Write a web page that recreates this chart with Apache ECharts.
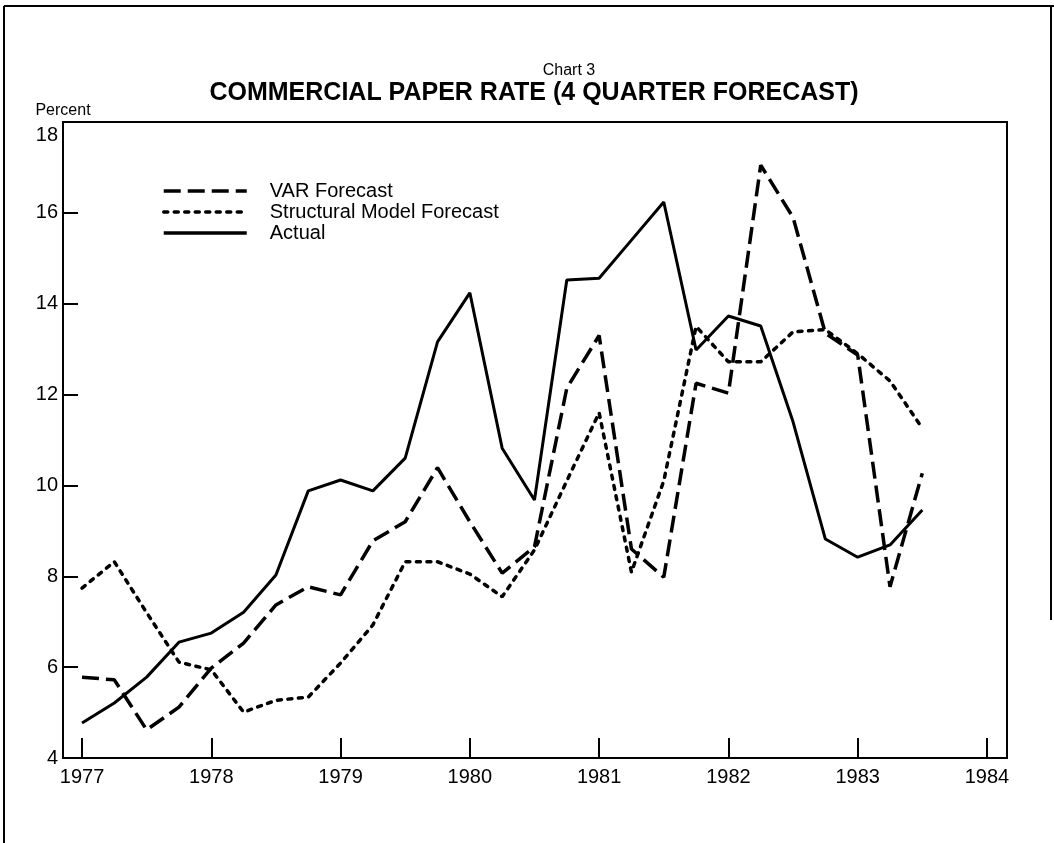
<!DOCTYPE html>
<html><head><meta charset="utf-8">
<script src="https://cdn.jsdelivr.net/npm/echarts@6/dist/echarts.min.js"></script>
<style>html,body{margin:0;padding:0;background:#fff}#c{width:1054px;height:843px}</style>
</head><body><div id="c"></div>
<script>
// Quarterly observation dates (1977Q1 .. 1983Q3)
const quarters = [1977.00,1977.25,1977.50,1977.75,1978.00,1978.25,1978.50,1978.75,
  1979.00,1979.25,1979.50,1979.75,1980.00,1980.25,1980.50,1980.75,
  1981.00,1981.25,1981.50,1981.75,1982.00,1982.25,1982.50,1982.75,
  1983.00,1983.25,1983.50];
const actual = [4.77,5.21,5.78,6.55,6.75,7.21,8.03,9.88,10.12,9.88,10.6,13.16,14.24,10.82,9.68,14.52,
  14.56,15.4,16.24,12.98,13.73,13.51,11.4,8.82,8.42,8.69,9.46];
const varForecast = [5.78,5.72,4.62,5.12,5.98,6.53,7.37,7.77,7.59,8.78,9.2,10.39,9.2,8.07,8.65,12.14,
  13.3,8.6,7.98,12.25,12.03,17.05,15.9,13.35,12.87,7.77,10.27];
const structural = [7.74,8.32,7.2,6.11,5.94,5.01,5.27,5.34,6.09,6.93,8.32,8.32,8.05,7.55,8.58,10.1,
  11.6,8.09,10.1,13.5,12.72,12.72,13.38,13.43,12.9,12.3,11.26];
const yearTicks = [1977,1978,1979,1980,1981,1982,1983,1984];
const seriesNames = ['VAR Forecast','Structural Model Forecast','Actual'];
const chartLabel = 'Chart 3';
const chartTitle = 'COMMERCIAL PAPER RATE (4 QUARTER FORECAST)';
const yName = 'Percent';

const pair = arr => quarters.map((q,i)=>[q,arr[i]]);
const FONT = 'Liberation Sans';
const chart = echarts.init(document.getElementById('c'), null, {renderer:'canvas'});
chart.setOption({
  backgroundColor:'#fff',
  animation:false,
  title:[
    {text:chartLabel,left:564,top:58,textAlign:'center',
     textStyle:{fontFamily:FONT,fontSize:16,fontWeight:'normal',color:'#000'}},
    {text:chartTitle,left:529,top:76,textAlign:'center',
     textStyle:{fontFamily:FONT,fontSize:25,fontWeight:'bold',color:'#000'}}
  ],
  legend:{
    orient:'vertical',left:157,top:176,itemWidth:83,itemHeight:14,itemGap:1,
    data:seriesNames,
    textStyle:{fontFamily:FONT,fontSize:20,color:'#000',lineHeight:20,padding:[0,0,0,18]},
    itemStyle:{opacity:0},
    lineStyle:{width:3.5}
  },
  grid:{left:63,right:47,top:122,bottom:85,show:true,borderColor:'#000',borderWidth:2,backgroundColor:'transparent'},
  xAxis:{type:'value',min:1976.853,max:1984.155,
    axisLine:{show:true,lineStyle:{color:'#000',width:2}},
    axisTick:{show:true,inside:true,length:20,lineStyle:{color:'#000',width:2},customValues:yearTicks},
    axisLabel:{show:true,customValues:yearTicks,formatter:v=>String(v),fontFamily:FONT,fontSize:20,color:'#000',margin:9},
    splitLine:{show:false}
  },
  yAxis:{type:'value',min:4,max:18,interval:2,
    name:yName,nameLocation:'end',nameGap:3,
    nameTextStyle:{fontFamily:FONT,fontSize:16,color:'#000',align:'center'},
    axisLine:{show:true,lineStyle:{color:'#000',width:2}},
    axisTick:{show:true,inside:true,length:15,lineStyle:{color:'#000',width:2}},
    axisLabel:{fontFamily:FONT,fontSize:20,color:'#000',margin:5,
      formatter:v=> v===18 ? '{top|18}' : String(v),
      rich:{top:{fontFamily:FONT,fontSize:20,color:'#000',padding:[26,0,0,0]}}},
    splitLine:{show:false}
  },
  series:[
    {name:seriesNames[0],type:'line',data:pair(varForecast),showSymbol:false,symbol:'none',
     lineStyle:{color:'#000',width:3.5,type:[17,7],cap:'butt'},itemStyle:{color:'#000'}},
    {name:seriesNames[1],type:'line',data:pair(structural),showSymbol:false,symbol:'none',
     lineStyle:{color:'#000',width:3.5,type:[4,6.5],cap:'round'},itemStyle:{color:'#000'}},
    {name:seriesNames[2],type:'line',data:pair(actual),showSymbol:false,symbol:'none',
     lineStyle:{color:'#000',width:3},itemStyle:{color:'#000'}}
  ],
  graphic:[
    {type:'line',shape:{x1:4,y1:6,x2:4,y2:843},style:{stroke:'#000',lineWidth:2},silent:true},
    {type:'line',shape:{x1:4,y1:6,x2:1054,y2:6},style:{stroke:'#000',lineWidth:2},silent:true},
    {type:'line',shape:{x1:1051,y1:6,x2:1051,y2:620},style:{stroke:'#000',lineWidth:2},silent:true}
  ]
});
</script></body></html>
